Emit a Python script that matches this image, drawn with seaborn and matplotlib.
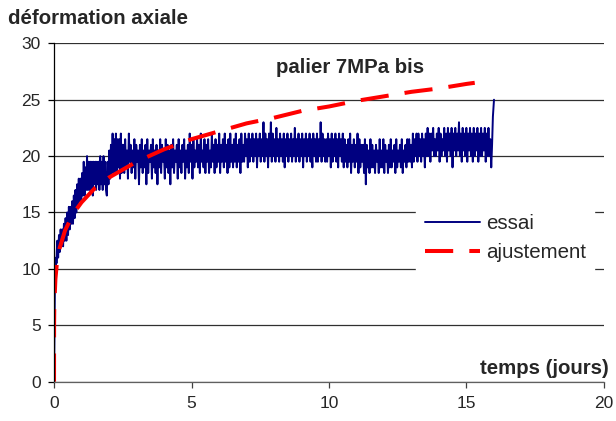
import numpy as np
import pandas as pd
import seaborn as sns
import matplotlib.pyplot as plt

# essai - montée initiale
essai_t_debut = [0, 0.005, 0.01, 0.015, 0.02, 0.025, 0.03, 0.04, 0.05, 0.06, 0.07, 0.08, 0.09, 0.1]
essai_y_debut = [0, 1.5, 3, 4.5, 6, 7, 8, 8.5, 9.5, 10, 10.5, 11, 10.5, 11.5]

# essai - phase transitoire, 80 mesures entre 0.12 et 2.49 jours
essai_y_transitoire = [
    12.5, 11, 13, 11.5, 13.5, 12, 13.5, 12, 14, 12.5,
    14.5, 12.5, 15, 13, 15.5, 13.5, 15.5, 14, 16, 14,
    16.5, 14.5, 17, 15, 17.5, 15.5, 18, 16, 18, 16,
    18.5, 16.5, 19.5, 16.5, 19, 17, 20, 17, 19.5, 17,
    19.5, 17, 19.5, 16.5, 19.5, 17.5, 19.5, 17, 19.5, 17.5,
    19.5, 17, 20, 17.5, 19.5, 17, 20, 17.5, 19.5, 17,
    16.5, 19.5, 17.5, 20.5, 18, 21, 18.5, 22, 18.5, 21.5,
    18.5, 22, 18.5, 21.5, 19, 21.5, 18, 22, 18.5, 21,
]

# essai - palier, 400 mesures entre 2.52 et 15.9 jours
essai_y_palier = [
    21, 18.5, 21.5, 19, 20.5, 18, 22, 19.5, 21, 18.5,
    20.5, 19, 21.5, 18, 21, 19.5, 20.5, 17.5, 21, 19,
    21.5, 18.5, 20.5, 19, 21, 17.5, 21.5, 18.5, 20.5, 19.5,
    21, 18, 21.5, 19, 20.5, 18.5, 21, 17.5, 20.5, 19,
    21.5, 18.5, 21, 19.5, 20.5, 18, 21.5, 19, 21, 18.5,
    20.5, 17.5, 21, 19, 21.5, 18.5, 20.5, 19.5, 21, 18,
    21.5, 19, 20.5, 18.5, 21, 19.5, 21.5, 18, 20.5, 19,
    21, 18.5, 22, 19.5, 21, 18, 21.5, 19, 20.5, 19.5,
    21.5, 19, 21, 18.5, 22, 19.5, 20.5, 19, 21.5, 18.5,
    21, 19.5, 21.5, 18.5, 20.5, 19, 22, 19.5, 21, 18.5,
    21.5, 19, 21, 19.5, 22, 18.5, 21, 19.5, 21.5, 19,
    22, 19.5, 21, 18.5, 21.5, 19, 22, 19.5, 21, 19,
    21.5, 19.5, 22, 19, 21, 19.5, 21.5, 18.5, 22, 19.5,
    21, 19.5, 22, 20, 21.5, 19, 22, 19.5, 21.5, 20,
    22, 19.5, 21.5, 20, 22, 19, 21.5, 20, 22, 19.5,
    21.5, 20, 23, 19.5, 22, 20, 21.5, 19, 22, 20,
    23, 19.5, 22, 20, 21.5, 19.5, 22.5, 20, 21.5, 19.5,
    22, 20, 21.5, 19.5, 22, 19, 21.5, 20, 22, 19.5,
    21.5, 20, 22, 19.5, 21.5, 20, 22.5, 19.5, 21.5, 20,
    22, 19.5, 21.5, 20, 22, 19, 21.5, 20, 22, 19.5,
    21.5, 20, 22, 19.5, 21.5, 19, 22, 20, 21.5, 19.5,
    22, 19.5, 21.5, 20, 23, 19.5, 22, 20, 21.5, 19.5,
    21.5, 19.5, 22, 20, 21.5, 19, 22, 19.5, 21.5, 20,
    22, 19.5, 21.5, 19, 22, 20, 21.5, 19.5, 22, 19,
    21.5, 19.5, 21, 19, 21.5, 19.5, 22, 18.5, 21, 19.5,
    21.5, 19, 21, 19.5, 22, 18.5, 21.5, 19, 21, 19.5,
    21, 18.5, 21.5, 17.5, 21, 19, 20.5, 18.5, 21.5, 19,
    21, 19, 20.5, 18.5, 21, 19.5, 20.5, 18.5, 21.5, 19,
    20.5, 19, 21.5, 18.5, 21, 19.5, 20.5, 18.5, 21, 19,
    21.5, 19, 20.5, 19.5, 21, 18.5, 21.5, 19, 20.5, 19.5,
    21, 19, 21.5, 18.5, 20.5, 19.5, 21, 19, 21.5, 19.5,
    21.5, 19.5, 21, 19, 22, 19.5, 21.5, 20, 22, 19.5,
    22, 20, 21.5, 19.5, 22, 20, 21.5, 19, 22, 20,
    22.5, 20, 22, 19.5, 22, 20.5, 22.5, 20, 21.5, 20,
    22, 20.5, 22.5, 19.5, 22, 20, 21.5, 20.5, 22.5, 20,
    22, 19.5, 22.5, 20.5, 22, 20, 22.5, 19, 22, 20.5,
    22.5, 20, 22, 20.5, 23, 20, 22, 19.5, 22.5, 20.5,
    22, 20, 22.5, 19.5, 22, 20.5, 22.5, 20, 22, 19.5,
    22.5, 20, 22, 20.5, 22.5, 19.5, 22, 20, 22.5, 20,
    22, 20.5, 22.5, 19.5, 22, 20, 22.5, 20, 21.5, 19,
]

# essai - remontée finale
essai_t_fin = [15.93, 15.96, 16.0]
essai_y_fin = [21, 23.5, 25]

# courbe d'ajustement (points lus)
ajust_t = [0, 0.002, 0.01, 0.05, 0.1, 0.2, 0.4, 0.7, 1, 1.5, 2, 3, 4, 5, 6, 7, 8, 9, 10, 11, 12, 13, 14, 15, 15.3]
ajust_y = [0, 5.1, 6.8, 9.1, 10.4, 11.8, 13.4, 14.9, 15.9, 17.2, 18.1, 19.5, 20.6, 21.5, 22.2, 22.9, 23.4,
           24.0, 24.4, 24.9, 25.3, 25.7, 26.0, 26.4, 26.5]

essai_t = np.concatenate([
    essai_t_debut,
    np.linspace(0.12, 2.49, len(essai_y_transitoire)),
    np.linspace(2.52, 15.9, len(essai_y_palier)),
    essai_t_fin,
])
essai_y = np.concatenate([essai_y_debut, essai_y_transitoire, essai_y_palier, essai_y_fin])

essai = pd.DataFrame({"t": essai_t, "y": essai_y})
ajust = pd.DataFrame({"t": ajust_t, "y": ajust_y})

sns.set_style("white")
plt.rcParams["font.family"] = ["Liberation Sans", "DejaVu Sans"]

fig = plt.figure(figsize=(6.16, 4.21), dpi=100)
ax = fig.add_axes([0.0877, 0.0934, 0.8928, 0.8037])

sns.lineplot(data=essai, x="t", y="y", ax=ax, color="#000080", linewidth=1.4,
             estimator=None, sort=False, label="essai")
sns.lineplot(data=ajust, x="t", y="y", ax=ax, color="#ff0000", linewidth=2.9,
             estimator=None, sort=False, linestyle=(0, (7, 4)), label="ajustement")

ax.set_xlim(0, 20)
ax.set_ylim(0, 30)
ax.set_xticks([0, 5, 10, 15, 20])
ax.set_yticks([0, 5, 10, 15, 20, 25, 30])
ax.grid(axis="y", color="#303030", linewidth=0.9)
ax.set_axisbelow(True)
ax.set_xlabel("")
ax.set_ylabel("")

for s in ["top", "right"]:
    ax.spines[s].set_visible(False)
ax.spines["left"].set_color("black")
ax.spines["left"].set_linewidth(0.9)
ax.spines["bottom"].set_color("#606060")
ax.spines["bottom"].set_linewidth(0.9)
ax.tick_params(axis="y", direction="out", length=4.5, width=0.9, color="black", pad=5, labelsize=12.5, left=True)
ax.tick_params(axis="x", direction="out", length=4.5, width=0.9, color="#404040", pad=6, labelsize=12.5, bottom=True)

fig.text(0.013, 0.943, "déformation axiale", fontsize=14.7, fontweight="bold", va="baseline", ha="left")
ax.text(10.78, 27.34, "palier 7MPa bis", fontsize=14.7, fontweight="bold", ha="center", va="baseline")
ax.text(20.16, 0.68, "temps (jours)", fontsize=14.7, fontweight="bold", ha="right", va="baseline")

leg = ax.legend(loc="center left", bbox_to_anchor=(0.640, 0.425), frameon=True, fontsize=14.8,
                handlelength=2.7, labelspacing=0.5, borderpad=0.4, handletextpad=0.3)
leg.get_frame().set_edgecolor("white")
leg.get_frame().set_facecolor("white")
leg.get_frame().set_alpha(1)
leg.get_frame().set_boxstyle("square", pad=0)

fig.savefig("out.png", dpi=100)
